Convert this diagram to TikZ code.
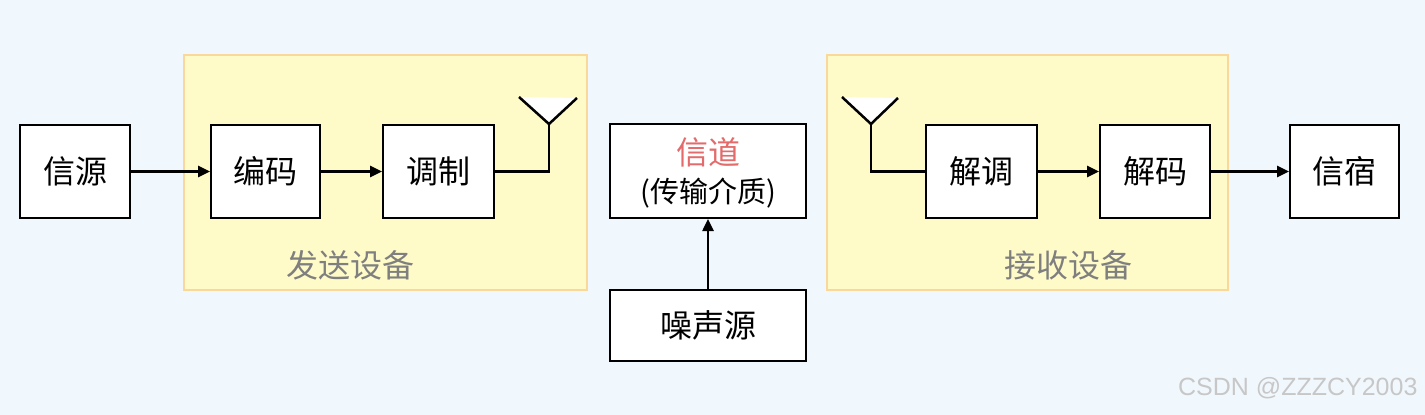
\documentclass[tikz,border=0pt]{standalone}
\usepackage{fontspec}
\newfontfamily\cjk{Noto Sans CJK SC}
\newfontfamily\wm{Liberation Sans}
\usetikzlibrary{arrows.meta}
\definecolor{bgc}{HTML}{F1F8FD}
\definecolor{yel}{HTML}{FEFBC9}
\definecolor{yelb}{HTML}{FAD89C}
\definecolor{labgray}{HTML}{7F7F7F}
\definecolor{chred}{HTML}{E46B6B}
\tikzset{
  blk/.style={draw=black, line width=2pt, fill=white, inner sep=0pt, font=\cjk\fontsize{32}{36}\selectfont},
  grp/.style={draw=yelb, line width=1.5pt, fill=yel},
  conn/.style={line width=2.5pt, -{Triangle[length=12pt,width=11pt]}},
  wire/.style={line width=2.5pt},
  ant/.style={line width=2.5pt, fill=white, line join=miter},
  glab/.style={text=labgray, font=\cjk\fontsize{32}{36}\selectfont}
}
\begin{document}
\begin{tikzpicture}[x=1pt,y=-1pt]
\fill[bgc] (0,0) rectangle (1425,415);
\useasboundingbox (0,0) rectangle (1425,415);
% groups
\draw[grp] (184,55) rectangle (587,290);
\draw[grp] (827,55) rectangle (1228,290);
\node[glab] (tx) at (350,265) {发送设备};
\node[glab] (rx) at (1068,265) {接收设备};
% boxes
\node[blk, minimum width=110pt, minimum height=93pt] (src) at (75,171.5) {信源};
\node[blk, minimum width=109pt, minimum height=93pt] (enc) at (265.5,171.5) {编码};
\node[blk, minimum width=111pt, minimum height=93pt] (mod) at (438.5,171.5) {调制};
\node[blk, minimum width=196pt, minimum height=94pt, align=center] (ch) at (708,171) {};
\node[text=chred, font=\cjk\fontsize{32}{36}\selectfont] (chn) at (708,152) {信道};
\node[font=\cjk\fontsize{29}{33}\selectfont] (chm) at (708,193) {(传输介质)};
\node[blk, minimum width=196pt, minimum height=71pt] (noise) at (708,325) {噪声源};
\node[blk, minimum width=111pt, minimum height=93pt] (dem) at (981.5,171.5) {解调};
\node[blk, minimum width=110pt, minimum height=93pt] (dec) at (1155,171.5) {解码};
\node[blk, minimum width=109pt, minimum height=93pt] (snk) at (1344.5,171.5) {信宿};
% antennas
\coordinate (at1) at (549,124);
\coordinate (al1) at (519,97);
\coordinate (ar1) at (577,98);
\coordinate (ab1) at (549,171.5);
\draw[ant] (al1) -- (at1) -- (ar1);
\draw[wire] (mod.east) -- (ab1) -- (at1);
\coordinate (at2) at (871,124);
\coordinate (al2) at (842,97);
\coordinate (ar2) at (898,98);
\coordinate (ab2) at (871,171.5);
\draw[ant] (al2) -- (at2) -- (ar2);
\draw[wire] (dem.west) -- (ab2) -- (at2);
% connectors
\draw[conn] (src) -- (enc);
\draw[conn] (enc) -- (mod);
\draw[conn] (dem) -- (dec);
\draw[conn] (dec) -- (snk);
\draw[conn] (noise) -- (ch);
% watermark
\node[text=black!22, font=\wm\fontsize{25}{28}\selectfont, anchor=east] (wmk) at (1421,388) {CSDN @ZZZCY2003};
\end{tikzpicture}
\end{document}
